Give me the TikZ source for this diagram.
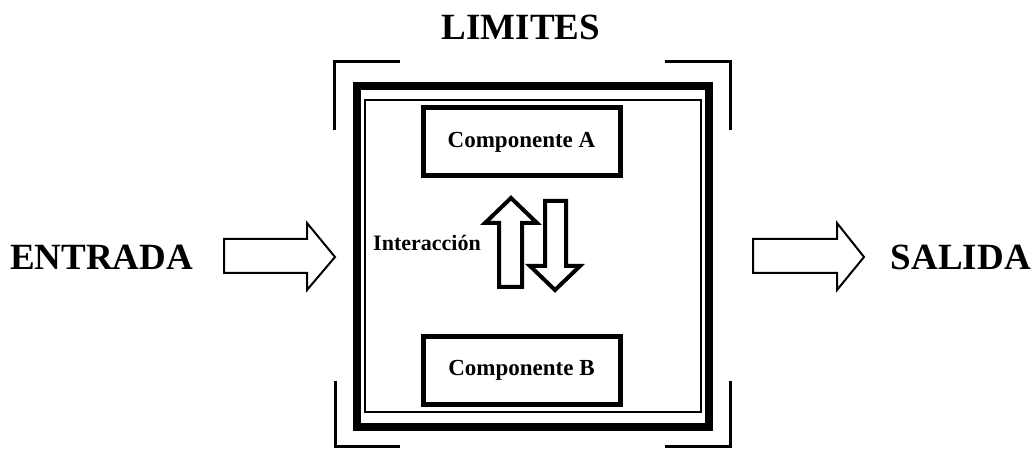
\documentclass[tikz,border=0pt]{standalone}
\usepackage{fontspec}
\setmainfont{Liberation Serif}
\begin{document}
\begin{tikzpicture}[x=1pt,y=-1pt,
  bigtxt/.style={font=\fontsize{37}{40}\selectfont\bfseries, inner sep=0pt},
  comp/.style={draw, line width=5pt, minimum width=197pt, minimum height=68pt, inner sep=0pt, font=\fontsize{23}{25}\selectfont\bfseries},
  blockarrow/.style={draw, line width=2pt, line join=miter},
  smallarrow/.style={draw, line width=4pt, line join=miter},
  bracket/.style={line width=3pt}]
\useasboundingbox (0,0) rectangle (1034,449);
% labels
\node[bigtxt] (lim) at (521,27) {LIMITES};
\node[bigtxt, anchor=west] (ent) at (10,257) {ENTRADA};
\node[bigtxt, anchor=east] (sal) at (1031,257) {SALIDA};
% brackets
\draw[bracket] (334,130) -- (334,62) -- (400,62);
\draw[bracket] (665,62) -- (730,62) -- (730,130);
\draw[bracket] (335,381) -- (335,446.5) -- (400,446.5);
\draw[bracket] (665,446.5) -- (730,446.5) -- (730,381);
% system boxes
\draw[line width=8pt] (357,86) rectangle (709,427);
\draw[line width=2pt] (365,100) rectangle (701,412);
% components
\node[comp] (a) at (521.5,142) {Componente A};
\node[comp] (b) at (521.5,370) {Componente B};
% interaction
\node[font=\fontsize{22}{24}\selectfont\bfseries, inner sep=0pt] (int) at (427,243) {Interacción};
\draw[smallarrow] (499,287) -- (499,223) -- (485,223) -- (511,198) -- (537,223) -- (522,223) -- (522,287) -- cycle;
\draw[smallarrow] (545,201) -- (545,266) -- (530,266) -- (555,290) -- (580,266) -- (566,266) -- (566,201) -- cycle;
% input / output arrows
\draw[blockarrow] (224,239) -- (307,239) -- (307,223) -- (335,257) -- (307,290) -- (307,273) -- (224,273) -- cycle;
\draw[blockarrow] (753,239) -- (837,239) -- (837,223) -- (864,257) -- (837,290) -- (837,273) -- (753,273) -- cycle;
\end{tikzpicture}
\end{document}
